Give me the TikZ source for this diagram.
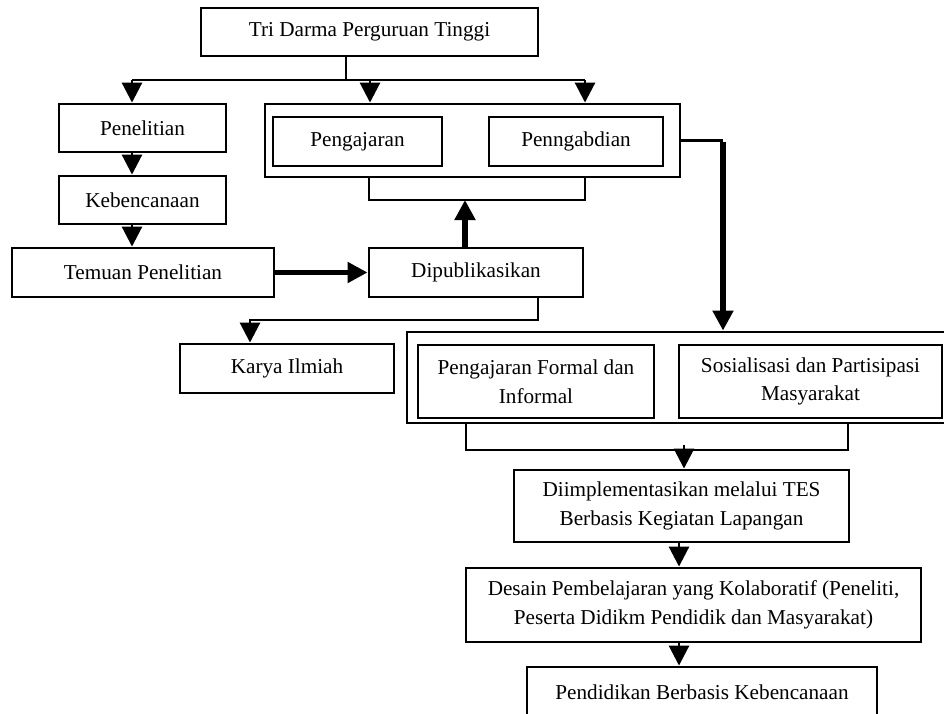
\documentclass[tikz,border=0pt]{standalone}
\usepackage{fontspec}
\setmainfont{Liberation Serif}
\usetikzlibrary{arrows.meta}
\begin{document}
\begin{tikzpicture}[x=1pt,y=-1pt,
  box/.style={draw, line width=2.9pt, inner sep=0pt, align=center, font=\fontsize{21.2}{28.5}\selectfont},
  frame/.style={draw, line width=2.9pt, inner sep=0pt},
  conn/.style={line width=2.9pt},
  thickconn/.style={line width=5.2pt},
  arr/.style={-{Triangle[length=20pt,width=20pt]}}
]
\useasboundingbox (0,0) rectangle (944,713);
\clip (0,0) rectangle (944,713);

% frames (drawn first)
\node[frame, minimum width=415pt, minimum height=73pt] (outer1) at (472.5,140.5) {};
\node[frame, minimum width=553pt, minimum height=91pt] (outer2) at (683.5,377.5) {};

% boxes
\node[box, minimum width=337pt, minimum height=48pt] (tri) at (369.5,32) {Tri Darma Perguruan Tinggi};
\node[box, minimum width=167pt, minimum height=48pt] (pen) at (142.5,128) {Penelitian};
\node[box, minimum width=167pt, minimum height=48pt] (keb) at (142.5,200) {Kebencanaan};
\node[box, minimum width=262pt, minimum height=49pt] (tem) at (143,272.5) {Temuan Penelitian};
\node[box, minimum width=214pt, minimum height=49pt] (dip) at (476,272.5) {Dipublikasikan};
\node[box, minimum width=169pt, minimum height=49pt] (peng) at (357.5,141.5) {Pengajaran};
\node[box, minimum width=174pt, minimum height=49pt] (pengab) at (576,141.5) {Penngabdian};
\node[box, minimum width=214pt, minimum height=49pt] (karya) at (287,368.5) {Karya Ilmiah};
\node[box, minimum width=236pt, minimum height=73pt] (pf) at (536,381.5) {Pengajaran Formal dan\\Informal};
\node[box, minimum width=263pt, minimum height=73pt] (sos) at (810.5,381.5) {Sosialisasi dan Partisipasi\\Masyarakat};
\node[box, minimum width=335pt, minimum height=72pt] (diimpl) at (681.5,506) {Diimplementasikan melalui TES\\Berbasis Kegiatan Lapangan};
\node[box, minimum width=455pt, minimum height=74pt] (desain) at (693.5,605) {Desain Pembelajaran yang Kolaboratif (Peneliti,\\Peserta Didikm Pendidik dan Masyarakat)};
\node[box, minimum width=350pt, minimum height=50pt] (pend) at (702,692) {Pendidikan Berbasis Kebencanaan};

% junction coordinates
\coordinate (j) at (346,80);
\coordinate (aL) at (132,80);
\coordinate (aM) at (370,80);
\coordinate (aR) at (585,80);
\coordinate (b1L) at (369,200);
\coordinate (b1R) at (585,200);
\coordinate (u) at (465,200);
\coordinate (r) at (723,140.5);
\coordinate (k1) at (538,320);
\coordinate (k2) at (250,320);
\coordinate (b2L) at (466,450);
\coordinate (b2R) at (848,450);
\coordinate (d1) at (684,445);
\coordinate (d2) at (679,0);

% top distribution
\draw[conn] (tri.south -| j) -- (j);
\draw[conn] (aL) -- (aR);
\draw[conn,arr] (aL) -- (aL |- pen.north);
\draw[conn,arr] (aM) -- (aM |- outer1.north);
\draw[conn,arr] (aR) -- (aR |- outer1.north);

% left chain
\draw[conn,arr] (aL |- pen.south) -- (aL |- keb.north);
\draw[conn,arr] (aL |- keb.south) -- (aL |- tem.north);
\draw[thickconn,arr] (tem.east) -- (dip.west);

% bracket under first frame and upward arrow
\draw[conn] (outer1.south -| b1L) -- (b1L) -- (b1R) -- (outer1.south -| b1R);
\draw[thickconn,arr] (dip.north -| u) -- (u);

% dipublikasikan to karya
\draw[conn,arr] (dip.south -| k1) -- (k1) -- (k2) -- (k2 |- karya.north);

% pengabdian frame to second frame
\draw[conn] (outer1.east) -- (r);
\draw[thickconn,arr] ([yshift=-1.45pt]r) -- (r |- outer2.north);

% bracket under second frame
\draw[conn] (outer2.south -| b2L) -- (b2L) -- (b2R) -- (outer2.south -| b2R);
\draw[conn,arr] (d1) -- (d1 |- diimpl.north);
\draw[conn,arr] (d2 |- diimpl.south) -- (d2 |- desain.north);
\draw[conn,arr] (d2 |- desain.south) -- (d2 |- pend.north);
\end{tikzpicture}
\end{document}
